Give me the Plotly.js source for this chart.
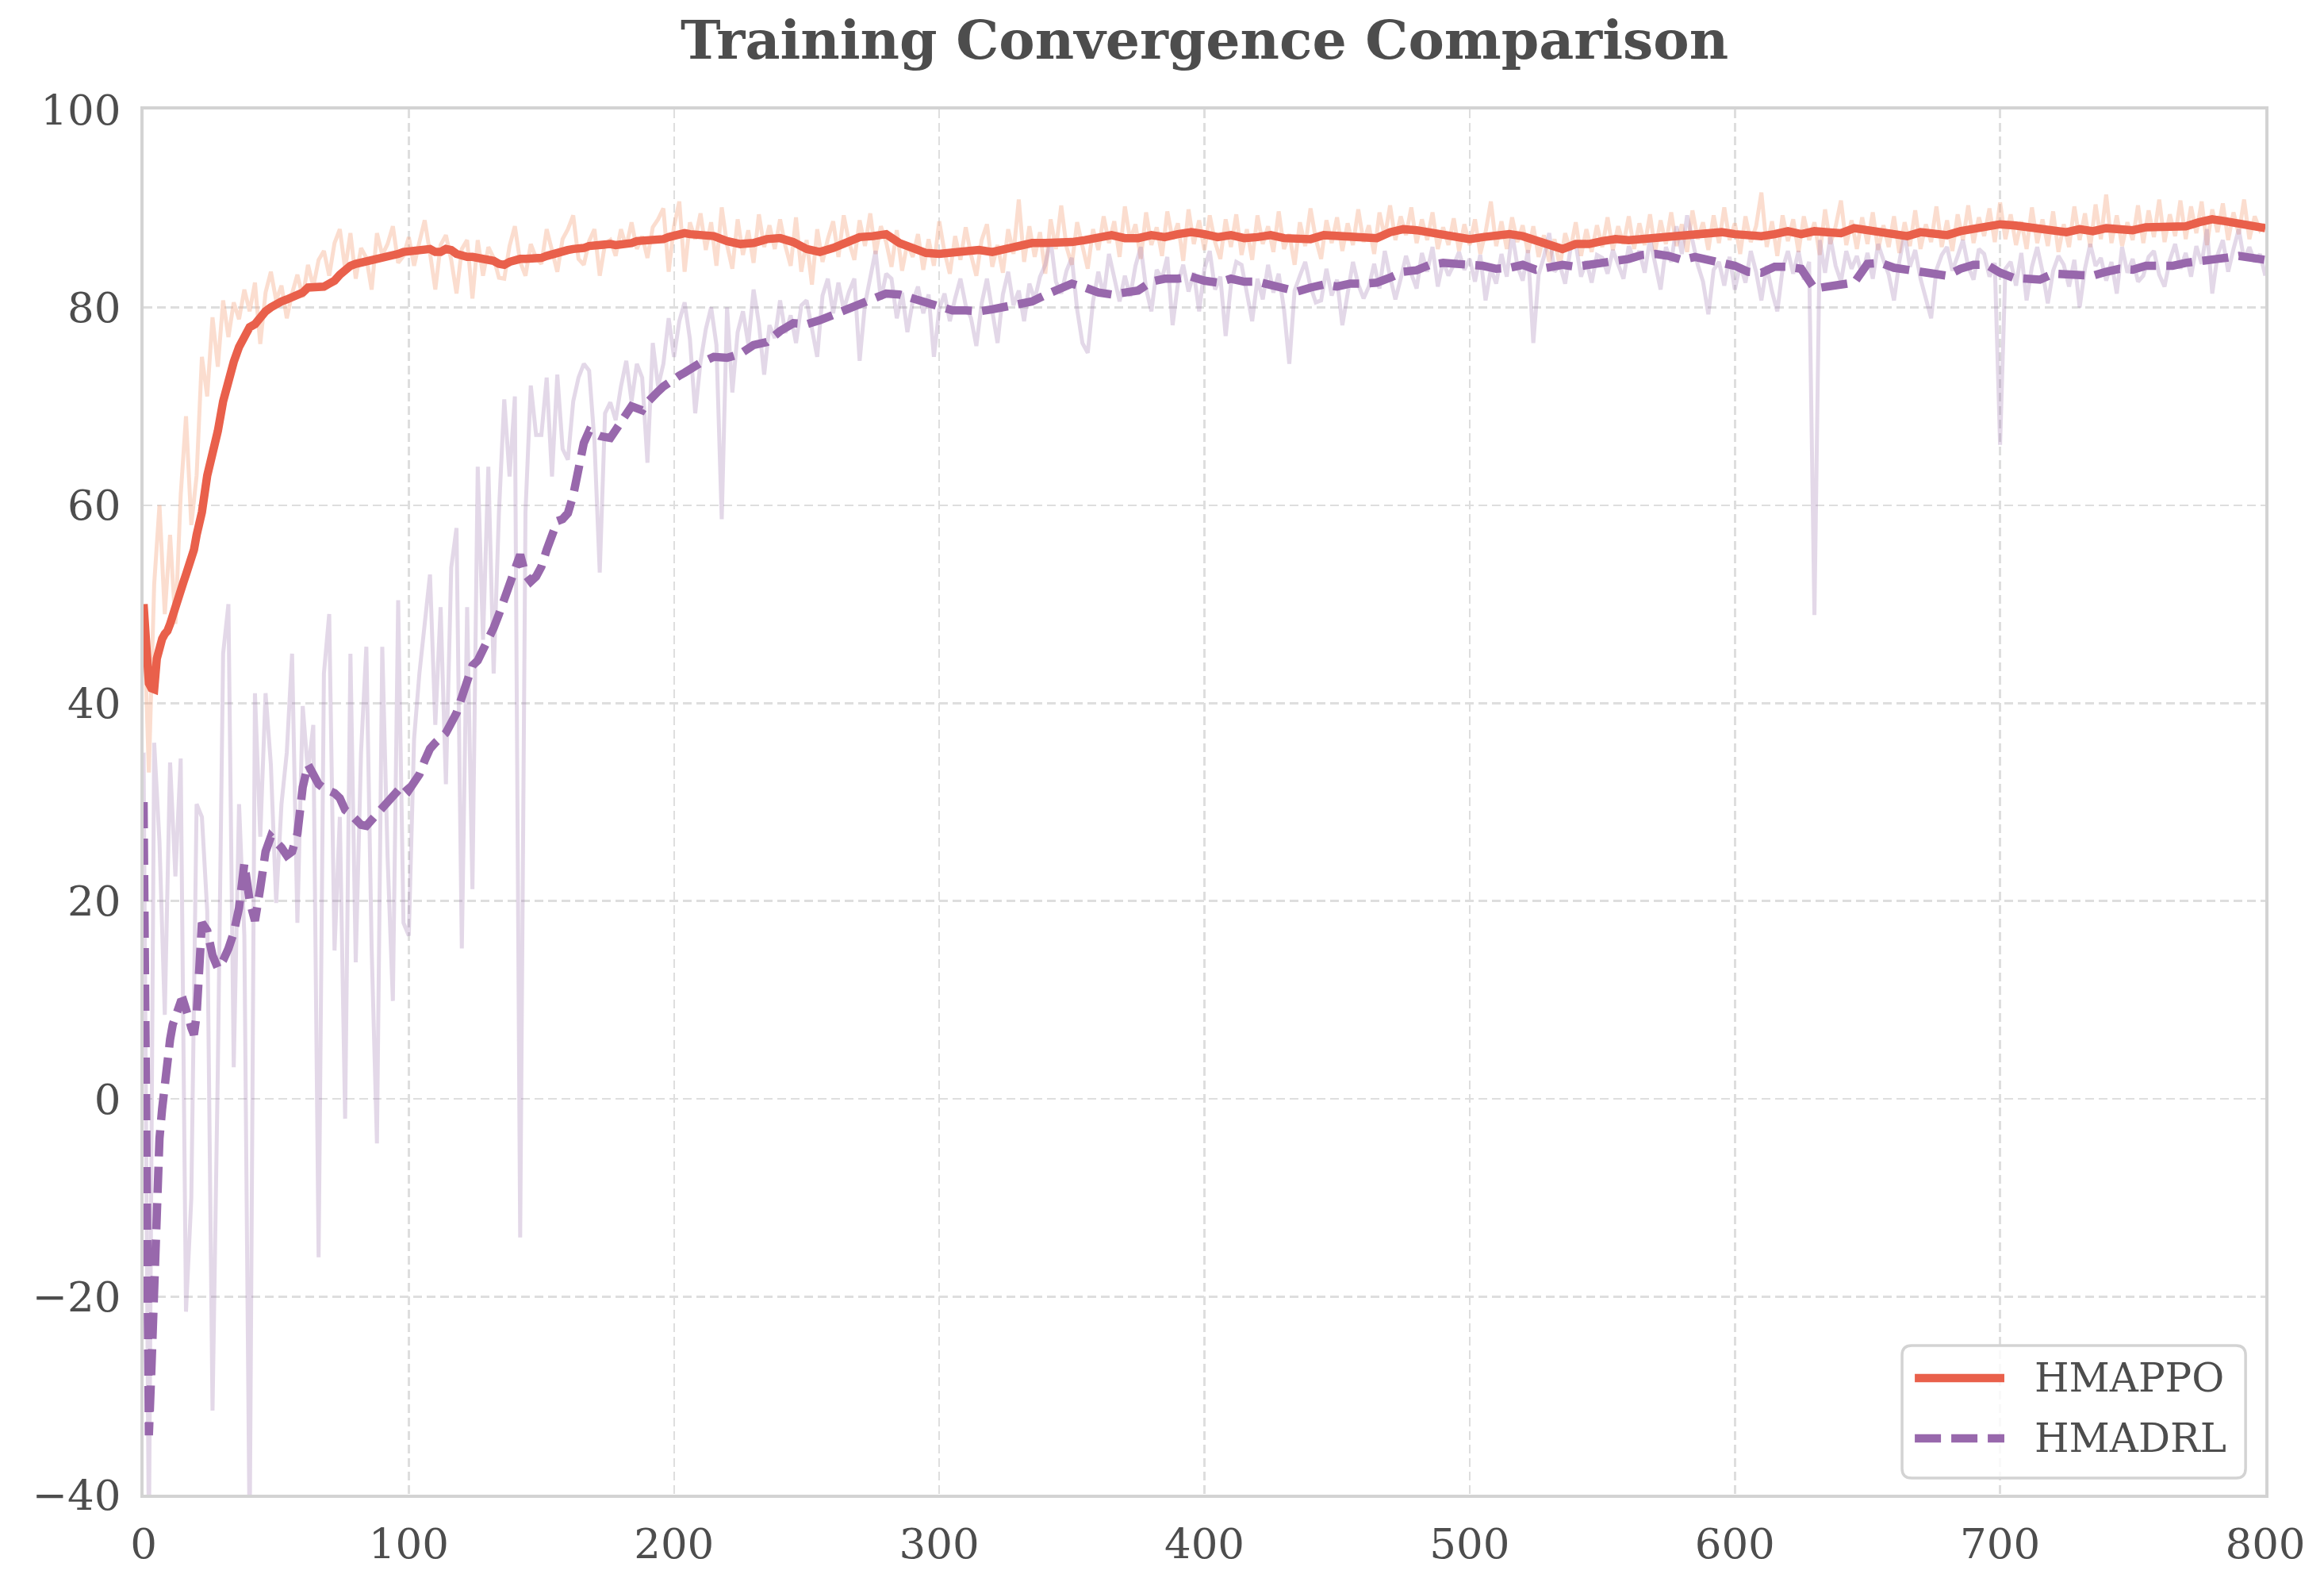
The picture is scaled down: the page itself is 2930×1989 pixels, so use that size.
<!DOCTYPE html>
<html>
<head>
<meta charset="utf-8">
<script src="https://cdn.plot.ly/plotly-3.0.1.min.js"></script>
<style>html,body{margin:0;padding:0;background:#fff;}#chart{width:2930px;height:1989px;}</style>
</head>
<body>
<div id="chart"></div>
<script>
// ---------------- data ----------------
const seriesNames = ["HMAPPO", "HMADRL"];
const xTicks = [0, 100, 200, 300, 400, 500, 600, 700, 800];
const yTicks = [-40, -20, 0, 20, 40, 60, 80, 100];

// raw episode rewards, sampled every 2 episodes (0, 2, ..., 800)
const hmappoRaw = [
 50, 33, 52, 60, 49, 57, 48, 61, 69, 58, 63, 75, 71, 79, 74, 80.7, 77, 80.5, 78.8, 81.8, 79.6, 82.5, 76.3, 81.5, 83.6,
 80.7, 82.2, 78.9, 81.4, 83.3, 81, 84.3, 82.1, 84.8, 85.7, 83.2, 86.5, 87.9, 83.9, 87.5, 82.9, 86, 85, 81.8, 87.5, 85.3, 86.4, 88.2, 84.5, 85.2,
 87.1, 84.2, 86.6, 88.8, 85.5, 81.8, 86.3, 87.3, 84.8, 81.4, 85.9, 86.8, 80.9, 86.8, 83.2, 86.1, 85, 83, 82.9, 86.2, 88.2, 84.6, 83.2, 86.4, 85,
 84.4, 87.9, 85.8, 83.6, 86.9, 87.9, 89.3, 84.9, 84.3, 86.7, 87.9, 83.2, 86.4, 86.8, 85.2, 87.9, 86.1, 88.6, 85.9, 87.2, 85, 88.1, 88.9, 90, 83.6,
 88.2, 90.7, 83.6, 88.6, 86.9, 89.5, 85.8, 88.6, 84.2, 90.1, 86.3, 83.9, 88.9, 85.3, 87.8, 84.5, 89.4, 86.1, 88.3, 85.9, 88.9, 86.2, 84.2, 89.1, 83.6,
 86.8, 82.3, 87.9, 84.6, 86.9, 88.7, 85.1, 89.3, 86.6, 84.8, 88.8, 86.2, 89.5, 85.4, 88.2, 86.6, 84.1, 87.8, 83.7, 86.5, 85.1, 87.4, 83.8, 86.9, 84.2,
 88.7, 85.6, 83.4, 87.2, 84.8, 88.1, 85.3, 83.2, 86.8, 88.4, 84.1, 86.3, 83.5, 87.9, 85.4, 90.9, 84.6, 88.2, 85.1, 87.6, 83.4, 88.9, 85.9, 90.3, 86.1,
 84.3, 88.6, 86.2, 83.9, 87.9, 85.8, 89.2, 86.5, 88.7, 85.1, 90.2, 86.8, 88.4, 84.9, 89.6, 86.3, 88.1, 85.2, 89.7, 86.9, 88.5, 84.7, 89.9, 86.4, 88.8,
 85.8, 89.3, 86.6, 84.9, 88.9, 86.1, 89.4, 85.3, 87.9, 84.8, 89.3, 86.4, 88.2, 85.6, 89.7, 85.9, 87.4, 84.3, 88.6, 86.2, 90.0, 86.9, 84.9, 88.8, 86.5,
 89.1, 85.7, 88.5, 86.3, 89.9, 86.6, 88.3, 85.4, 89.6, 87.1, 90.3, 86.8, 89.2, 87.3, 90.1, 86.5, 88.9, 86.8, 89.6, 85.9, 88.1, 86.3, 89.0, 85.7, 88.4,
 86.3, 88.9, 85.4, 87.6, 90.7, 86.2, 88.7, 85.9, 89.1, 86.6, 88.3, 85.5, 88.2, 85.1, 87.3, 84.6, 86.9, 84.1, 87.5, 85.8, 88.6, 85.2, 87.9, 85.6, 88.3,
 86.1, 89.1, 85.8, 88.2, 86.4, 89.2, 85.9, 88.5, 86.3, 89.4, 85.7, 88.8, 86.4, 89.6, 86.2, 88.4, 85.6, 89.8, 86.9, 88.6, 85.8, 89.3, 86.5, 90.1, 86.8,
 88.5, 85.4, 89.2, 86.6, 88.2, 91.6, 86.1, 88.7, 85.2, 89.3, 86.7, 88.9, 85.6, 89.2, 86.8, 88.6, 85.3, 89.9, 86.4, 88.2, 90.8, 86.3, 88.8, 85.9, 89.1,
 86.4, 89.6, 85.8, 88.3, 86.1, 89.2, 85.5, 88.6, 86.2, 89.8, 85.9, 88.4, 86.6, 90.2, 86.1, 88.8, 85.7, 89.4, 86.8, 90.3, 86.5, 89.1, 87.2, 90.0, 86.6,
 90.6, 86.9, 89.4, 86.3, 88.7, 85.9, 90.1, 86.5, 88.9, 86.2, 89.7, 85.6, 88.4, 86.1, 90.2, 86.8, 89.5, 86.1, 90.4, 86.9, 91.4, 86.5, 89.3, 86.2, 88.6,
 86.8, 90.3, 86.5, 89.8, 87.1, 90.9, 86.6, 89.4, 87.2, 90.8, 86.9, 90.2, 87.5, 90.7, 86.3, 89.9, 87.6, 90.5, 86.8, 89.6, 87.4, 90.9, 86.9, 89.2, 87.8, 88.4
];
const hmadrlRaw = [
 35, -45, 36, 26, 8.5, 34, 22.5, 34.4, -21.5, -10, 29.8, 28.5, 19, -31.5, 3, 45, 50, 3.2, 29.8, 16.5, -45, 41, 26.5, 41, 33.8,
 19.8, 29.8, 35, 45, 17.8, 39.7, 33, 37.8, -16, 43, 49, 15, 28.5, -2, 45, 13.8, 35, 45.7, 15.2, -4.5, 45.7, 24.5, 9.9, 50.4, 17.8,
 16.5, 36.4, 43, 47.7, 53, 37.8, 49.7, 31.8, 53.7, 57.7, 15.2, 49.7, 21.2, 63.9, 46.4, 63.9, 43, 59.3, 70.7, 62.9, 71, -14, 59.3, 72.1, 67.1,
 67.1, 72.9, 62.9, 73.2, 65.7, 64.6, 70.5, 72.9, 74.3, 73.6, 66.5, 53.2, 69.3, 70.4, 68.6, 72, 74.6, 70.5, 74.3, 72.9, 64.3, 76.4, 72, 74.3, 78.9,
 75, 78.6, 80.5, 76.8, 69.3, 74.5, 77.8, 80, 76.2, 58.6, 80, 71.4, 77.5, 79.6, 76.3, 81.8, 78.4, 73.2, 78.2, 76.9, 80.7, 77.4, 79.2, 76.4, 80.2,
 80.7, 77.6, 75, 81.2, 82.9, 79.4, 82.5, 79.8, 81.6, 82.9, 74.6, 80.3, 83.1, 85.7, 80.8, 83.4, 82.9, 78.9, 81.5, 77.5, 80.6, 82.1, 79.4, 81.3, 75,
 79.8, 81.4, 78.6, 80.9, 82.9, 80.2, 78.9, 76.1, 80.4, 82.9, 79.5, 76.4, 81.3, 83.6, 80.2, 81.7, 78.6, 82.4, 80.8, 83.1, 84.3, 86.8, 82.6, 81.4, 83.7,
 85, 79.8, 76.4, 75.4, 80.6, 83.6, 81.2, 85.4, 82.8, 80.6, 83.2, 81.1, 84.2, 86.1, 81.9, 79.6, 83.8, 82.9, 85.1, 78.2, 82.4, 84.3, 81.6, 83.5, 79.6,
 83.9, 85.7, 81.8, 83.1, 77.1, 82.3, 84.6, 84.3, 81.2, 78.6, 82.9, 80.8, 84.3, 81.5, 83.4, 79.8, 74.3, 81.7, 83.2, 84.6, 82.1, 80.5, 80.7, 83.9, 81.2,
 82.8, 78.2, 81.6, 84.6, 82.3, 80.9, 82.1, 84.4, 81.9, 85.7, 83.1, 80.8, 82.9, 85.2, 83.4, 81.9, 85.5, 83.6, 86.1, 82.1, 84.7, 83.2, 84.3, 85.6, 83.8,
 84.9, 82.6, 85.3, 80.7, 83.9, 82.4, 85.4, 83.1, 87.5, 84.2, 82.7, 85.8, 76.4, 83.3, 85.1, 87.5, 83.6, 84.3, 82.4, 85.9, 86.4, 83.1, 84.7, 82.5, 85.3,
 85, 83.4, 85.8, 84.3, 82.9, 86.2, 84.8, 85.7, 83.5, 86.9, 84.1, 81.8, 86.1, 84.6, 88.2, 85.4, 89.3, 86.7, 84.3, 82.6, 79.3, 83.8, 84.6, 82.2, 85.1,
 81.8, 84.3, 82.5, 85.7, 83.6, 80.7, 84.2, 81.6, 79.6, 83.9, 85.7, 83.4, 85.7, 82.8, 84.6, 48.9, 86.8, 83.5, 87.1, 84.2, 82.6, 85.7, 83.9, 85.2, 83.2,
 85.5, 82.9, 86.4, 84.8, 83.3, 80.7, 84.6, 87.5, 84.1, 85.8, 82.9, 80.9, 78.9, 83.8, 85.3, 86.1, 83.7, 85.2, 86.8, 84.1, 82.8, 85.9, 85.4, 83.1, 84.5,
 66.1, 83.9, 84.6, 82.2, 85.5, 80.7, 84.1, 86.1, 83.6, 80.4, 83.7, 85.2, 84.3, 82.1, 84.8, 80, 83.9, 86.4, 84.2, 85, 82.7, 84.6, 81.4, 86.1, 83.5,
 84.9, 82.6, 83.2, 85.1, 85.7, 83.3, 82.1, 84.8, 86.4, 83.9, 85.5, 83.1, 86.2, 84.4, 87.9, 81.4, 85.3, 86.8, 83.6, 85.9, 87.9, 84.8, 86.1, 84.6, 85.4, 83.2
];

// smoothed (moving average) curves, read at: 0..20 every 1, 22..210 every 2, 215..800 every 5
const hmappoSmooth = [
 50, 47, 42, 41.5, 41.4, 44.5, 45.8, 46.5, 47, 47.3, 48, 49, 50, 50.5, 51.2, 52.2, 53, 53.8, 54.5, 55.5, 57,
 59.3, 63, 65, 67.5, 70.5, 72.7, 74.5, 76, 77.2, 78,
 78.3, 79, 79.6, 80, 80.4, 80.6, 80.8, 81, 81.1, 81.5,
 82, 82, 82, 82.1, 82.4, 82.7, 83.3, 83.9, 84.2, 84.4,
 84.5, 84.6, 84.8, 85, 85.1, 85.2, 85.3, 85.4, 85.6, 85.7,
 85.8, 85.8, 85.9, 85.9, 85.6, 85.6, 85.9, 85.8, 85.4, 85.2,
 85.1, 85.1, 85, 85, 84.9, 84.7, 84.4, 84.3, 84.6, 84.8,
 84.9, 84.9, 84.9, 84.9, 85, 85.2, 85.4, 85.5, 85.6, 85.8,
 85.9, 85.9, 86, 86.2, 86.3, 86.4, 86.4, 86.4, 86.3, 86.3,
 86.3, 86.5, 86.7, 86.7, 86.7, 86.7, 86.8, 86.9, 87.1, 87.3,
 87.5, 87.5, 87.4, 87.4, 87.4,
 87.2, 86.7, 86.4, 86.5, 86.9, 87.0, 86.6, 85.9, 85.6, 86.0,
 86.6, 87.1, 87.2, 87.4, 86.5, 85.9, 85.5, 85.4, 85.5, 85.6,
 85.8, 85.6, 85.9, 86.4, 86.5, 86.5, 86.5, 86.6, 86.8, 87.1,
 87.3, 87.0, 87.0, 87.3, 87.1, 87.4, 87.6, 87.4, 87.1, 87.3,
 87.0, 87.1, 87.3, 87.0, 86.9, 86.9, 87.3, 87.2, 87.1, 87.2,
 87.0, 87.6, 87.9, 87.8, 87.6, 87.4, 87.1, 86.9, 87.1, 87.3,
 87.4, 87.2, 86.8, 86.3, 85.9, 86.4, 86.4, 86.7, 86.9, 86.8,
 86.9, 87.0, 87.0, 87.1, 87.4, 87.4, 87.6, 87.4, 87.3, 87.2,
 87.4, 87.7, 87.4, 87.7, 87.6, 87.5, 88.0, 87.8, 87.5, 87.3,
 87.2, 87.6, 87.5, 87.3, 87.7, 88.0, 88.1, 88.4, 88.3, 88.1,
 88.0, 87.8, 87.6, 87.9, 87.7, 88.0, 87.8, 87.8, 88.1, 88.1,
 88.1, 88.2, 88.6, 88.9, 88.7, 88.5, 88.2, 88.0
];
const hmadrlSmooth = [
 30, -20, -34, -27, -17, -9, -4, -1, 2, 4, 6, 7.5, 8.5, 9.3, 9.8, 9.9, 9.2, 8.2, 7.2, 6.5, 8.5,
 17.8, 17, 14.5, 13.2, 14, 15.2, 16.8, 19.3, 23.8, 20,
 18, 21.3, 25, 26.5, 26, 25.4, 24.6, 25, 26.8, 31.5,
 33.8, 32.8, 31.8, 31.4, 31.2, 30.9, 30.4, 29.2, 28.8, 28.3,
 27.7, 27.6, 28.2, 28.6, 29.5, 30, 30.5, 31.2, 31.8, 31.2,
 32, 32.8, 34.2, 35.4, 36, 36.4, 37, 38, 39, 40.6,
 42.5, 43.8, 44.3, 45.3, 46.3, 47.6, 49, 50.5, 52, 53.6,
 55, 53, 52.3, 52.8, 53.8, 55.5, 57.3, 58.4, 58.6, 59.2,
 61, 64, 66.3, 67.5, 67.2, 67, 66.9, 66.8, 67.6, 68.4,
 69.3, 70, 69.8, 69.6, 70.4, 71.1, 71.5, 72, 72.4, 72.9,
 73.1, 73.4, 73.7, 74.2, 74.4,
 75.0, 74.9, 75.3, 76.2, 76.5, 77.6, 78.4, 78.3, 78.7, 79.2,
 79.8, 80.3, 80.8, 81.4, 81.3, 80.9, 80.7, 80.2, 79.7, 79.7,
 79.6, 79.8, 80.0, 80.2, 80.6, 81.25, 81.9, 82.4, 82.0, 81.5,
 81.3, 81.4, 81.7, 82.6, 82.9, 82.9, 83.1, 82.7, 82.5, 82.9,
 82.6, 82.6, 82.2, 81.9, 81.6, 82.0, 82.3, 82.1, 82.4, 82.4,
 82.5, 83.0, 83.6, 83.75, 84.3, 84.5, 84.3, 84.3, 84.2, 83.9,
 84.0, 84.3, 83.8, 84.1, 84.3, 84.1, 84.3, 84.6, 84.6, 84.9,
 85.3, 85.4, 85.2, 84.8, 85.1, 84.9, 84.5, 84.2, 83.6, 83.5,
 84.1, 84.1, 83.9, 81.9, 82.1, 82.3, 82.5, 84.4, 84.5, 84.0,
 83.7, 83.6, 83.4, 83.2, 83.9, 84.3, 84.3, 83.5, 83.0, 82.8,
 82.8, 83.4, 83.4, 83.2, 83.2, 83.6, 83.9, 83.8, 84.2, 84.2,
 84.2, 84.5, 84.6, 84.7, 85.0, 85.2, 85.1, 84.8
];

// episode indices
const rawEpisodes = [];
for (let e = 0; e <= 800; e += 2) rawEpisodes.push(e);
const smoothEpisodes = [];
for (let e = 0; e <= 20; e += 1) smoothEpisodes.push(e);
for (let e = 22; e <= 210; e += 2) smoothEpisodes.push(e);
for (let e = 215; e <= 800; e += 5) smoothEpisodes.push(e);

// ---------------- style ----------------
const TEXT = '#4d4d4d';
const FONT = 'DejaVu Serif';
const RED = '#e9604b';
const PURPLE = '#9868ac';
const DASH = '33px,13px';
const LW = 10.5;

const traces = [
  {x: rawEpisodes, y: hmappoRaw, type: 'scatter', mode: 'lines', name: seriesNames[0] + ' raw',
   line: {color: 'rgba(244,165,130,0.38)', width: 5}, showlegend: false, hoverinfo: 'skip'},
  {x: rawEpisodes, y: hmadrlRaw, type: 'scatter', mode: 'lines', name: seriesNames[1] + ' raw',
   line: {color: 'rgba(153,112,171,0.27)', width: 5}, showlegend: false, hoverinfo: 'skip'},
  {x: smoothEpisodes, y: hmappoSmooth, type: 'scatter', mode: 'lines', name: seriesNames[0],
   line: {color: RED, width: LW}, showlegend: false},
  {x: smoothEpisodes, y: hmadrlSmooth, type: 'scatter', mode: 'lines', name: seriesNames[1],
   line: {color: PURPLE, width: LW, dash: DASH}, showlegend: false}
];

// legend geometry (paper coordinates)
const lx0 = 0.8288, lx1 = 0.9907, ly0 = 0.012, ly1 = 0.1077, rx = 0.0045, ry = 0.0069;
const boxPath = `M${lx0+rx},${ly0} L${lx1-rx},${ly0} Q${lx1},${ly0} ${lx1},${ly0+ry} L${lx1},${ly1-ry} Q${lx1},${ly1} ${lx1-rx},${ly1} L${lx0+rx},${ly1} Q${lx0},${ly1} ${lx0},${ly1-ry} L${lx0},${ly0+ry} Q${lx0},${ly0} ${lx0+rx},${ly0} Z`;
const legendRows = [0.0842, 0.0407];
const legendColors = [RED, PURPLE];
const legendDash = ['solid', DASH];

const shapes = [
  {type: 'path', xref: 'paper', yref: 'paper', path: boxPath,
   fillcolor: 'rgba(255,255,255,0.8)', line: {color: '#d3d3d3', width: 3.5}, layer: 'above'}
];
const annotations = [];
seriesNames.forEach((nm, i) => {
  shapes.push({type: 'line', xref: 'paper', yref: 'paper', x0: 0.8348, x1: 0.877,
    y0: legendRows[i], y1: legendRows[i], line: {color: legendColors[i], width: LW, dash: legendDash[i]}, layer: 'above'});
  annotations.push({xref: 'paper', yref: 'paper', x: 0.8905, y: legendRows[i], xanchor: 'left', yanchor: 'middle',
    text: nm, showarrow: false, font: {family: FONT, size: 50, color: TEXT}});
});

const axisCommon = {
  showline: true, mirror: true, linecolor: '#d3d3d3', linewidth: 4,
  showgrid: true, gridcolor: '#dedede', gridwidth: 2.5, griddash: '11px,6px',
  zeroline: false, ticks: '', tickfont: {family: FONT, size: 53, color: TEXT}
};

const layout = {
  width: 2930, height: 1989,
  margin: {l: 181, r: 74, t: 138, b: 105, pad: 0},
  paper_bgcolor: '#ffffff', plot_bgcolor: '#ffffff',
  title: {text: 'Training Convergence Comparison', x: 0.5, xref: 'paper', xanchor: 'center',
          y: 1 - 50 / 1989, yref: 'container', yanchor: 'middle',
          font: {family: FONT, size: 68, color: TEXT, weight: 'bold'}},
  xaxis: Object.assign({}, axisCommon, {range: [0, 800], tickvals: xTicks, ticklabelstandoff: 12}),
  yaxis: Object.assign({}, axisCommon, {range: [-40, 100], tickvals: yTicks, ticklabelstandoff: 14}),
  shapes: shapes, annotations: annotations, showlegend: false
};

Plotly.newPlot('chart', traces, layout, {staticPlot: true, displayModeBar: false});
</script>
</body>
</html>
